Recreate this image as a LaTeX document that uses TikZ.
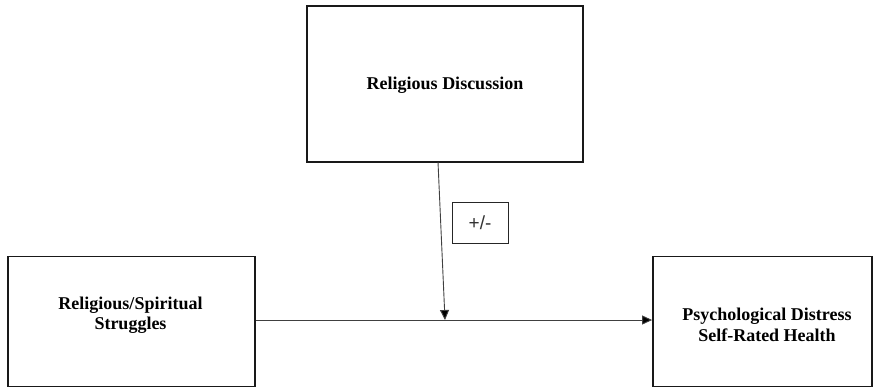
\documentclass[tikz,border=0pt]{standalone}
\usepackage{fontspec}
\setmainfont{Liberation Serif}
\newfontfamily\signfont{Liberation Sans}
\usetikzlibrary{arrows.meta,calc}
\begin{document}
\begin{tikzpicture}[x=1pt,y=-1pt,
  box/.style={draw=black!90,line width=1.8pt,rectangle,inner sep=0pt},
  lbl/.style={align=center,font=\bfseries\fontsize{18}{20}\selectfont,inner sep=0pt},
  conn/.style={draw=black!75,line width=0.9pt,-{Triangle[length=10pt,width=9pt,fill=black]}},
  signbox/.style={draw=black!85,line width=1pt,rectangle,minimum width=56pt,minimum height=41pt,inner sep=0pt,font=\signfont\fontsize{19}{20}\selectfont,text=black!80}]
\useasboundingbox (0,0) rectangle (877,389);
% boxes
\node[box,minimum width=276pt,minimum height=156pt] (rd) at (445,84) {};
\node[lbl] (rdt) at (445,85) {Religious Discussion};
\node[box,minimum width=247pt,minimum height=130pt] (rs) at (131.5,321.5) {};
\node[lbl] (rst) at (130.5,315.5) {Religious/Spiritual\\Struggles};
\node[box,minimum width=219pt,minimum height=130pt] (pd) at (762.5,321.5) {};
\node[lbl,font=\bfseries\fontsize{18}{20.5}\selectfont] (pdt) at (767,325) {Psychological Distress\\Self-Rated Health};
% moderator sign
\node[signbox] (pm) at (480,222.5) {+/-};
% connectors
\coordinate (j) at (445,320);
\coordinate (s) at (438,162);
\draw[conn] (rs.east |- j) -- (pd.west |- j);
\draw[conn] (s) -- (j);
\end{tikzpicture}
\end{document}
